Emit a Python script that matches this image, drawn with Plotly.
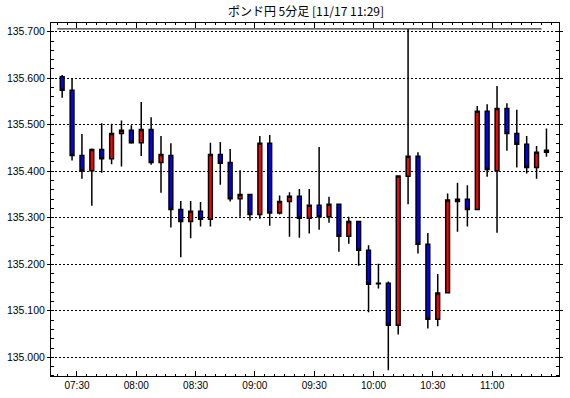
import pandas as pd
import plotly.graph_objects as go

# ---- data (5-minute candles, GBP/JPY) ----
times = ["07:20", "07:25", "07:30", "07:35", "07:40", "07:45", "07:50", "07:55",
         "08:00", "08:05", "08:10", "08:15", "08:20", "08:25", "08:30", "08:35",
         "08:40", "08:45", "08:50", "08:55", "09:00", "09:05", "09:10", "09:15",
         "09:20", "09:25", "09:30", "09:35", "09:40", "09:45", "09:50", "09:55",
         "10:00", "10:05", "10:10", "10:15", "10:20", "10:25", "10:30", "10:35",
         "10:40", "10:45", "10:50", "10:55", "11:00", "11:05", "11:10", "11:15",
         "11:20", "11:25"]
opens = [135.603, 135.574, 135.434, 135.401, 135.447, 135.427, 135.481, 135.488,
         135.461, 135.490, 135.419, 135.434, 135.318, 135.292, 135.314, 135.297,
         135.436, 135.419, 135.341, 135.350, 135.307, 135.460, 135.310, 135.335,
         135.346, 135.299, 135.327, 135.302, 135.329, 135.260, 135.292, 135.230,
         135.159, 135.159, 135.069, 135.389, 135.432, 135.243, 135.082, 135.139,
         135.335, 135.340, 135.318, 135.529, 135.401, 135.535, 135.481, 135.458,
         135.408, 135.441]
highs = [135.607, 135.600, 135.480, 135.449, 135.503, 135.502, 135.509, 135.499,
         135.549, 135.516, 135.476, 135.460, 135.336, 135.336, 135.334, 135.461,
         135.463, 135.448, 135.402, 135.350, 135.476, 135.478, 135.348, 135.355,
         135.362, 135.362, 135.452, 135.345, 135.329, 135.302, 135.292, 135.241,
         135.201, 135.163, 135.390, 135.706, 135.441, 135.267, 135.179, 135.352,
         135.375, 135.370, 135.540, 135.544, 135.583, 135.546, 135.532, 135.476,
         135.454, 135.492]
lows = [135.558, 135.423, 135.384, 135.326, 135.397, 135.415, 135.410, 135.459,
        135.433, 135.414, 135.354, 135.279, 135.215, 135.256, 135.281, 135.281,
        135.371, 135.335, 135.302, 135.294, 135.298, 135.283, 135.307, 135.259,
        135.257, 135.266, 135.274, 135.289, 135.227, 135.244, 135.197, 135.097,
        135.148, 134.972, 135.049, 135.329, 135.223, 135.062, 135.067, 135.139,
        135.270, 135.281, 135.318, 135.388, 135.268, 135.444, 135.408, 135.395,
        135.384, 135.431]
closes = [135.574, 135.434, 135.401, 135.447, 135.427, 135.481, 135.488, 135.461,
          135.490, 135.419, 135.436, 135.318, 135.292, 135.314, 135.297, 135.436,
          135.417, 135.341, 135.350, 135.307, 135.460, 135.310, 135.335, 135.346,
          135.299, 135.327, 135.302, 135.329, 135.260, 135.292, 135.230, 135.157,
          135.158, 135.069, 135.390, 135.432, 135.243, 135.082, 135.138, 135.338,
          135.340, 135.318, 135.529, 135.404, 135.535, 135.481, 135.458, 135.408,
          135.441, 135.445]

x_tick_labels = ["07:30", "08:00", "08:30", "09:00", "09:30", "10:00", "10:30", "11:00"]

title_text = "ポンド円 5分足 [11/17 11:29]"
day = "2023-11-17 "

t_start = pd.to_datetime([day + t for t in times])
x_centers = t_start + pd.Timedelta(minutes=2.5)
x_tickvals = pd.to_datetime([day + t for t in x_tick_labels])

fig = go.Figure()

fig.add_trace(go.Candlestick(
    x=x_centers, open=opens, high=highs, low=lows, close=closes,
    increasing=dict(fillcolor="#ff0000", line=dict(color="black", width=1.5)),
    decreasing=dict(fillcolor="#0000ff", line=dict(color="black", width=1.5)),
    whiskerwidth=0, hoverinfo="skip", showlegend=False,
))

# period-high line
hmax = max(highs)
fig.add_trace(go.Scatter(
    x=[t_start[0], t_start[-1]], y=[hmax, hmax], mode="lines",
    line=dict(color="black", width=1), hoverinfo="skip", showlegend=False,
))

fig.update_layout(
    width=570, height=398,
    margin=dict(l=49, r=7, t=23, b=22),
    paper_bgcolor="white", plot_bgcolor="white",
    boxgap=0.45,
    font=dict(family="Liberation Sans, Arial, sans-serif", size=10, color="black"),
    title=dict(text=title_text, x=(49 + 563) / 2 / 570, xanchor="center",
               y=1 - 12 / 398, yanchor="middle", yref="container",
               font=dict(family="Noto Sans CJK JP", size=12, color="black")),
    showlegend=False,
)

fig.update_xaxes(
    type="date",
    range=[pd.Timestamp(day + "07:16:51"), pd.Timestamp(day + "11:33:51")],
    rangeslider=dict(visible=False),
    tickmode="array", tickvals=x_tickvals, ticktext=x_tick_labels,
    ticks="inside", ticklen=5, tickwidth=1, tickcolor="black",
    minor=dict(tick0=pd.Timestamp(day + "07:30"), dtick=5 * 60 * 1000,
               ticks="inside", ticklen=2, tickcolor="black", showgrid=False),
    showgrid=False, zeroline=False,
    showline=True, linecolor="black", linewidth=1, mirror="ticks",
    tickfont=dict(size=10, color="black"),
)

fig.update_yaxes(
    range=[134.9598, 135.7187],
    dtick=0.1, tick0=135.0, tickformat=".3f",
    ticks="outside", ticklen=3, tickwidth=1, tickcolor="black",
    minor=dict(dtick=0.02, ticks="inside", ticklen=3, tickcolor="black",
               showgrid=False),
    showgrid=True, gridcolor="black", gridwidth=1, griddash="2px,2px",
    zeroline=False,
    showline=True, linecolor="black", linewidth=1, mirror="ticks",
    tickfont=dict(size=10.5, color="black"),
)

fig.write_html("out.html")
